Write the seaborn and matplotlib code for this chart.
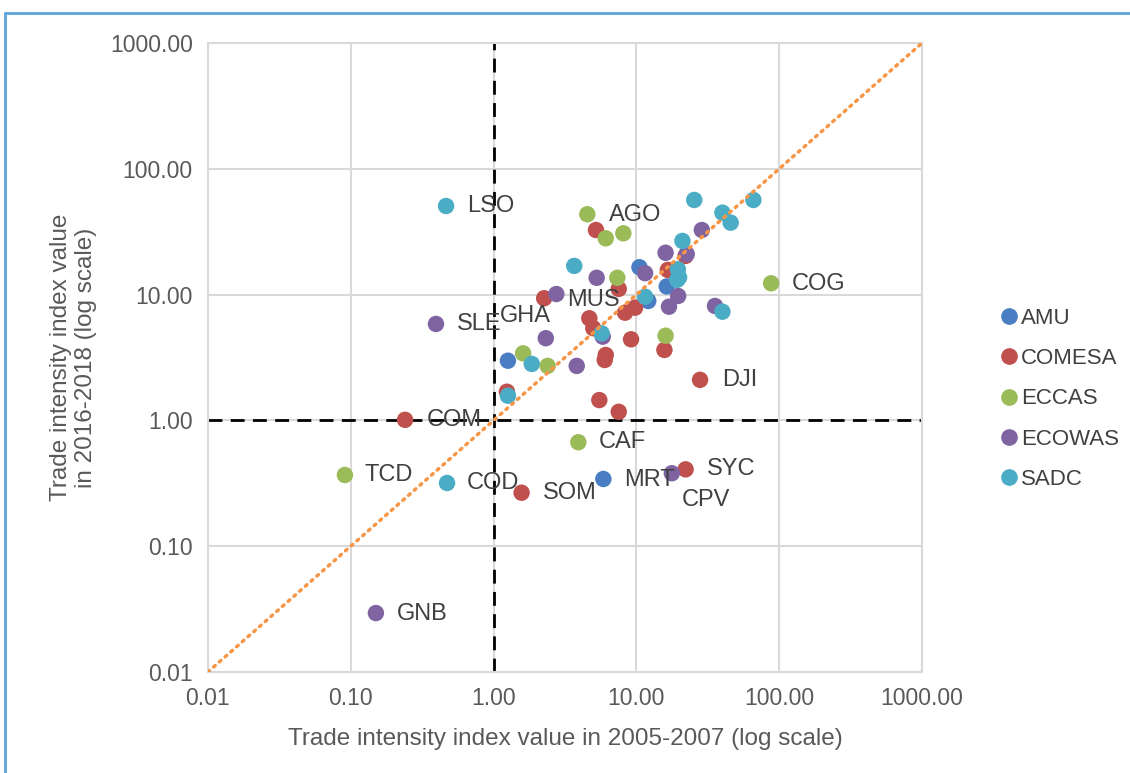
import pandas as pd
import seaborn as sns
import matplotlib.pyplot as plt
from matplotlib.lines import Line2D

# groups and colours (Excel style)
groups = ["AMU", "COMESA", "ECCAS", "ECOWAS", "SADC"]
colors = ["#4A7EC2", "#C0504D", "#9BBB59", "#8064A2", "#4BACC6"]

# values: 2005-2007 (x) vs 2016-2018 (y)
amu_x = [10.5, 16.3, 12.1, 1.26, 5.87]
amu_y = [16.5, 11.6, 8.9, 2.98, 0.342]
amu_lab = ["", "", "", "", "MRT"]

comesa_x = [0.24, 5.21, 22.1, 16.6, 7.52, 2.26, 9.78, 8.32, 4.68, 4.99,
            9.17, 15.7, 6.1, 6.0, 1.24, 5.5, 7.52, 27.9, 22.1, 1.57]
comesa_y = [1.01, 32.6, 20.3, 15.7, 11.1, 9.35, 7.87, 7.18, 6.48, 5.4,
            4.41, 3.63, 3.31, 3.02, 1.69, 1.45, 1.17, 2.1, 0.408, 0.266]
comesa_lab = ["COM", "", "", "", "", "MUS", "", "", "", "",
              "", "", "", "", "", "", "", "DJI", "SYC", "SOM"]

eccas_x = [4.53, 6.1, 8.1, 7.35, 87.7, 16.0, 1.61, 2.39, 3.92, 0.091]
eccas_y = [43.5, 28.0, 30.7, 13.6, 12.3, 4.71, 3.41, 2.71, 0.67, 0.368]
eccas_lab = ["AGO", "", "", "", "COG", "", "", "", "CAF", "TCD"]

ecowas_x = [28.7, 16.0, 22.5, 11.5, 5.27, 2.75, 19.6, 16.9, 35.5, 5.81,
            2.32, 3.82, 0.395, 17.7, 0.15]
ecowas_y = [32.6, 21.5, 21.0, 14.8, 13.6, 10.1, 9.75, 8.01, 8.12, 4.63,
            4.5, 2.71, 5.84, 0.38, 0.0294]
ecowas_lab = ["", "", "", "", "", "GHA", "", "", "", "",
              "", "", "SLE", "CPV", "GNB"]

sadc_x = [0.465, 25.4, 65.9, 40.0, 45.7, 21.0, 3.67, 19.5, 19.9, 19.3,
          11.5, 40.0, 5.71, 1.85, 1.26, 0.472]
sadc_y = [50.6, 56.5, 56.5, 44.8, 37.3, 26.7, 16.9, 15.9, 13.7, 13.1,
          9.62, 7.31, 4.92, 2.81, 1.57, 0.318]
sadc_lab = ["LSO", "", "", "", "", "", "", "", "", "",
            "", "", "", "", "", "COD"]

tick_vals = [0.01, 0.1, 1, 10, 100, 1000]
tick_labels = ["0.01", "0.10", "1.00", "10.00", "100.00", "1000.00"]

# label placement (pixels from the point)
label_offsets = {"LSO": (21, 0), "SLE": (21, 0), "COM": (22, 0), "TCD": (20, 0),
                 "COD": (20, 0), "GNB": (21, -1), "SOM": (21, 0), "MRT": (21, -1),
                 "CAF": (20, 0), "SYC": (21, 0), "CPV": (10, -27), "DJI": (22, 0),
                 "COG": (21, -1), "AGO": (22, -1), "MUS": (23, -2), "GHA": (-56, -22)}

frames = []
for g, xs, ys, labs in [("AMU", amu_x, amu_y, amu_lab),
                        ("COMESA", comesa_x, comesa_y, comesa_lab),
                        ("ECCAS", eccas_x, eccas_y, eccas_lab),
                        ("ECOWAS", ecowas_x, ecowas_y, ecowas_lab),
                        ("SADC", sadc_x, sadc_y, sadc_lab)]:
    frames.append(pd.DataFrame({"x": xs, "y": ys, "label": labs, "group": g}))
df = pd.concat(frames, ignore_index=True)

sns.set_theme(style="white")
plt.rcParams["font.family"] = ["Liberation Sans", "DejaVu Sans"]

fig = plt.figure(figsize=(11.3, 7.73), dpi=100)
ax = fig.add_axes([0.184, 0.1307, 0.632, 0.8137])

ax.set_xscale("log")
ax.set_yscale("log")
ax.set_xlim(0.01, 1000)
ax.set_ylim(0.01, 1000)

ax.grid(True, which="major", color="#D9D9D9", lw=1.5)
ax.set_axisbelow(True)

# quadrant lines
ax.axvline(1, color="black", lw=2, ls=(0, (5, 3)), zorder=1.5)
ax.axhline(1, color="black", lw=2, ls=(0, (5, 3)), zorder=1.5)

sns.scatterplot(data=df, x="x", y="y", hue="group", hue_order=groups,
                palette=colors, s=140, edgecolor="none", ax=ax, zorder=3,
                legend=False)

# 45 degree line
ax.plot([0.01, 1000], [0.01, 1000], color="#F79646", lw=2.5,
        ls=(0, (0.6, 1.6)), dash_capstyle="round", zorder=4)

for _, r in df[df["label"] != ""].iterrows():
    dx, dy = label_offsets[r["label"]]
    ax.annotate(r["label"], (r["x"], r["y"]), xytext=(dx, dy),
                textcoords="offset pixels", ha="left", va="center",
                fontsize=17, color="#404040", zorder=5)

ax.set_xticks(tick_vals)
ax.set_xticklabels(tick_labels)
ax.set_yticks(tick_vals)
ax.set_yticklabels(tick_labels)
ax.minorticks_off()
ax.tick_params(length=0, pad=11, labelsize=16.5, labelcolor="#595959")

ax.set_xlabel("Trade intensity index value in 2005-2007 (log scale)",
              fontsize=17.5, color="#595959", labelpad=13)
ax.set_ylabel("Trade intensity index value\nin 2016-2018 (log scale)",
              fontsize=17.5, color="#595959", labelpad=9)

for sp in ax.spines.values():
    sp.set_color("#D9D9D9")
    sp.set_linewidth(1.5)

handles = [Line2D([], [], marker="o", ls="", color=c, markersize=11) for c in colors]
fig.legend(handles, groups, loc="center left", bbox_to_anchor=(0.875, 0.484),
           frameon=False, fontsize=16, labelspacing=0.87, handletextpad=0.05,
           handlelength=1.0, labelcolor="#404040", borderaxespad=0)

# outer blue frame (left and top edges visible)
fig.add_artist(Line2D([5 / 1130, 5 / 1130], [0, 1 - 13 / 773], color="#5BA3DB", lw=2))
fig.add_artist(Line2D([5 / 1130, 1], [1 - 13 / 773, 1 - 13 / 773], color="#5BA3DB", lw=2))

fig.savefig("out.png", dpi=100)
